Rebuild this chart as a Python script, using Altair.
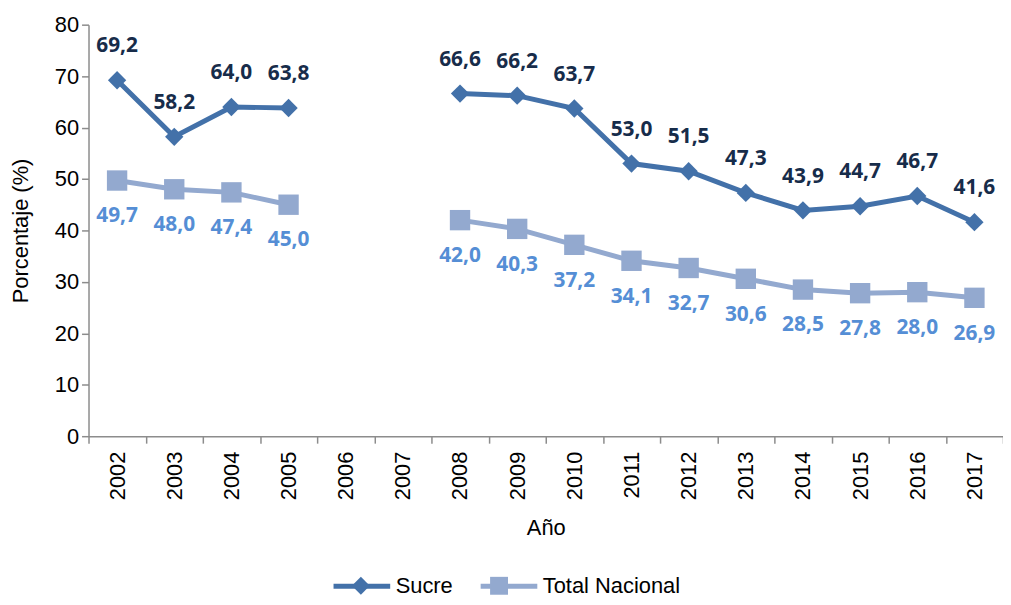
import altair as alt
import pandas as pd

years = [str(y) for y in range(2002, 2018)]
data_years = ["2002", "2003", "2004", "2005", "2008", "2009", "2010", "2011",
              "2012", "2013", "2014", "2015", "2016", "2017"]
sucre = [69.2, 58.2, 64.0, 63.8, 66.6, 66.2, 63.7, 53.0, 51.5, 47.3, 43.9, 44.7, 46.7, 41.6]
total = [49.7, 48.0, 47.4, 45.0, 42.0, 40.3, 37.2, 34.1, 32.7, 30.6, 28.5, 27.8, 28.0, 26.9]
series = ["Sucre", "Total Nacional"]
line_colors = ["#4371A9", "#93A9CF"]
label_colors = ["#172C4A", "#558ED5"]

rows = []
for name, vals in zip(series, [sucre, total]):
    for yr, v in zip(data_years, vals):
        rows.append({
            "year": yr,
            "serie": name,
            "serie_m": name,
            "value": v,
            "label": f"{v:.1f}".replace(".", ","),
            "seg": name + ("_a" if int(yr) < 2006 else "_b"),
        })
df = pd.DataFrame(rows)

FONT = "Liberation Sans"
LBL_FONT = "Open Sans"
FS = 22

x = alt.X("year:N", scale=alt.Scale(domain=years, paddingInner=0, paddingOuter=0),
          axis=alt.Axis(title="Año", labelAngle=270, tickBand="extent", labelPadding=8,
                        tickSize=7, titlePadding=18))
y = alt.Y("value:Q", scale=alt.Scale(domain=[0, 80], nice=False),
          axis=alt.Axis(title="Porcentaje (%)", values=list(range(0, 81, 10)),
                        tickSize=7, labelPadding=3, titlePadding=22))

LX, LY = 244, 534
CP = 17

line = alt.Chart(df).mark_line(strokeWidth=5).encode(
    x=x, y=y,
    stroke=alt.Stroke("serie:N", scale=alt.Scale(domain=series, range=line_colors),
                      legend=alt.Legend(title=None, orient="none", legendX=LX, legendY=LY,
                                        direction="horizontal", symbolType="stroke",
                                        symbolSize=3249, symbolStrokeWidth=5,
                                        labelOffset=3, columnPadding=CP,
                                        labelFontSize=FS, labelFont=FONT, labelColor="black")),
    detail="seg:N",
)

shape_legend = alt.Legend(title=None, orient="none", legendX=LX, legendY=LY + 19.5,
                          direction="horizontal", symbolSize=324,
                          symbolOffset=19, labelOffset=23, columnPadding=CP,
                          labelFontSize=FS, labelFont=FONT, labelColor="black",
                          labelOpacity=0, symbolStrokeWidth=0)

points = alt.Chart(df).mark_point(filled=True, opacity=1, strokeWidth=0).encode(
    x=x, y=y,
    fill=alt.Fill("serie_m:N", scale=alt.Scale(domain=series, range=line_colors),
                  legend=shape_legend),
    shape=alt.Shape("serie_m:N", scale=alt.Scale(domain=series, range=["diamond", "square"]),
                    legend=shape_legend),
    size=alt.Size("serie_m:N", scale=alt.Scale(domain=series, range=[340, 420]), legend=None),
)

lab_s = alt.Chart(df).transform_filter(alt.datum.serie == "Sucre").mark_text(
    dy=-34, font=LBL_FONT, fontWeight="bold", fontSize=21, color=label_colors[0]
).encode(x=x, y=y, text="label:N")

lab_t = alt.Chart(df).transform_filter(alt.datum.serie == "Total Nacional").mark_text(
    dy=36, font=LBL_FONT, fontWeight="bold", fontSize=21, color=label_colors[1]
).encode(x=x, y=y, text="label:N")

chart = alt.layer(line, points, lab_s, lab_t).properties(
    width=920, height=414,
    autosize=alt.AutoSizeParams(type="none"),
    padding={"left": 81, "top": 15, "right": 0, "bottom": 160},
).configure_view(stroke=None).configure_axis(
    grid=False, domainColor="#8C8C8C", tickColor="#8C8C8C", domainWidth=1.5, tickWidth=1.5,
    labelFont=FONT, labelFontSize=FS, labelColor="black",
    titleFont=FONT, titleFontSize=FS, titleFontWeight="normal", titleColor="black",
).resolve_legend(stroke="independent", fill="independent", shape="independent")

chart.save("out.html", embed_options={"renderer": "svg", "actions": False})
